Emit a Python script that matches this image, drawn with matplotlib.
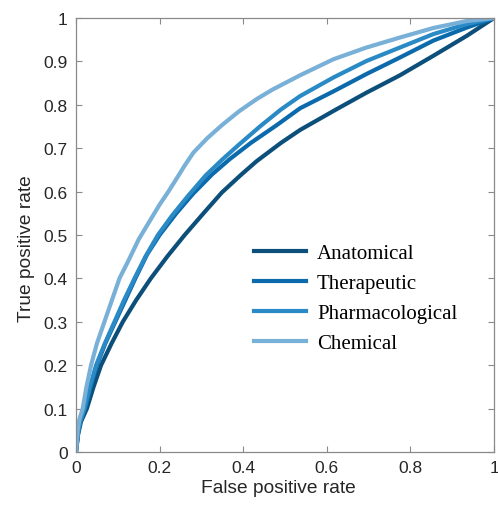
"""
ROC curves for four ATC levels
"""

import matplotlib
matplotlib.use("Agg")
import matplotlib.pyplot as plt

# DATA

labels = ['Anatomical', 'Therapeutic', 'Pharmacological', 'Chemical']
colours = ['#0c4f7b', '#0b6aab', '#2a8ac6', '#78b0d8']

fpr_anatomical = [0, 0.005, 0.012, 0.026, 0.042, 0.06, 0.085, 0.112, 0.144, 0.179, 0.218,
                  0.26, 0.305, 0.349, 0.394, 0.432, 0.49, 0.536, 0.62, 0.695, 0.775,
                  0.855, 0.935, 1.0]
tpr_anatomical = [0, 0.04, 0.07, 0.1, 0.15, 0.2, 0.25, 0.3, 0.35, 0.4, 0.45,
                  0.5, 0.55, 0.598, 0.638, 0.67, 0.712, 0.742, 0.788, 0.828, 0.868,
                  0.913, 0.959, 1.0]

fpr_therapeutic = [0, 0.005, 0.01, 0.022, 0.035, 0.05, 0.07, 0.094, 0.118, 0.142, 0.17,
                   0.2, 0.24, 0.28, 0.326, 0.368, 0.418, 0.48, 0.536, 0.616, 0.695,
                   0.775, 0.855, 0.935, 1.0]
tpr_therapeutic = [0, 0.045, 0.07, 0.1, 0.15, 0.2, 0.25, 0.3, 0.35, 0.4, 0.455,
                   0.5, 0.55, 0.595, 0.64, 0.675, 0.712, 0.753, 0.792, 0.831, 0.871,
                   0.909, 0.948, 0.978, 1.0]

fpr_pharma = [0, 0.005, 0.01, 0.02, 0.033, 0.048, 0.069, 0.092, 0.115, 0.14, 0.166,
              0.196, 0.23, 0.268, 0.31, 0.349, 0.386, 0.44, 0.49, 0.536, 0.616, 0.695,
              0.775, 0.855, 0.935, 1.0]
tpr_pharma = [0, 0.045, 0.07, 0.1, 0.15, 0.2, 0.25, 0.3, 0.35, 0.4, 0.45,
              0.5, 0.545, 0.59, 0.637, 0.673, 0.705, 0.75, 0.789, 0.82, 0.863, 0.901,
              0.932, 0.963, 0.986, 1.0]

fpr_chemical = [0, 0.004, 0.008, 0.016, 0.025, 0.036, 0.05, 0.068, 0.086, 0.104, 0.125,
                0.15, 0.175, 0.2, 0.221, 0.242, 0.26, 0.281, 0.314, 0.349, 0.39, 0.432,
                0.47, 0.504, 0.536, 0.616, 0.695, 0.775, 0.855, 0.935, 1.0]
tpr_chemical = [0, 0.05, 0.075, 0.1, 0.15, 0.2, 0.25, 0.3, 0.35, 0.4, 0.44,
                0.49, 0.53, 0.57, 0.6, 0.632, 0.66, 0.69, 0.723, 0.753, 0.785, 0.813,
                0.835, 0.852, 0.868, 0.905, 0.932, 0.955, 0.977, 0.993, 1.0]

curves = [(fpr_anatomical, tpr_anatomical), (fpr_therapeutic, tpr_therapeutic),
          (fpr_pharma, tpr_pharma), (fpr_chemical, tpr_chemical)]

ticks_x = [0, 0.2, 0.4, 0.6, 0.8, 1]
ticks_y = [0, 0.1, 0.2, 0.3, 0.4, 0.5, 0.6, 0.7, 0.8, 0.9, 1]

# PLOT

plt.rcParams['font.family'] = ['Liberation Sans', 'DejaVu Sans']

fig = plt.figure(figsize=(4.98, 5.10), dpi=100)
ax = fig.add_axes([76 / 498, 1 - 453 / 510, 418 / 498, 434 / 510])

for (x, y), lab, col in zip(curves, labels, colours):
    ax.plot(x, y, color=col, linewidth=3, label=lab, solid_joinstyle='round')

ax.set_xlim(0, 1)
ax.set_ylim(0, 1)
ax.set_xticks(ticks_x)
ax.set_xticklabels(['0', '0.2', '0.4', '0.6', '0.8', '1'])
ax.set_yticks(ticks_y)
ax.set_yticklabels(['0', '0.1', '0.2', '0.3', '0.4', '0.5', '0.6', '0.7', '0.8', '0.9', '1'])
ax.tick_params(direction='in', top=True, right=True, length=4, width=0.8,
               color='#8a8a8a', labelcolor='#262626', labelsize=12.5, pad=6)
for s in ax.spines.values():
    s.set_color('#8a8a8a')
    s.set_linewidth(0.9)

ax.set_xlabel('False positive rate', fontsize=13.8, color='#262626', labelpad=3)
ax.set_ylabel('True positive rate', fontsize=13.8, color='#262626', labelpad=6)
ax.xaxis.label.set_x(0.483)
ax.yaxis.label.set_y(0.47)

leg = ax.legend(loc='center left', bbox_to_anchor=(0.425, 0.354), frameon=False,
                prop={'family': 'Liberation Serif', 'size': 15},
                handlelength=2.52, handletextpad=0.52, labelspacing=0.5,
                borderpad=0, borderaxespad=0)

fig.savefig('out.png', dpi=100)
